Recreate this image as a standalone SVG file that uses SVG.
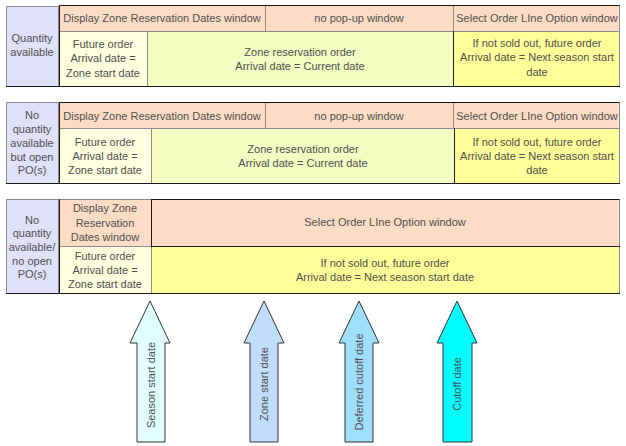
<svg xmlns="http://www.w3.org/2000/svg" width="626" height="446" viewBox="0 0 626 446">
<style>
text{font-family:"Liberation Sans",Arial,sans-serif;font-size:11px;fill:#505050;text-anchor:middle}
.c{stroke:#8c8c8c;stroke-width:1}
.lav{fill:#E0E0F9}
.hdr{fill:#FCDCC4}
.fut{fill:#FFFFE0}
.zone{fill:#F2FDC2}
.yel{fill:#FFFF99}
.dk{stroke:#1a1a1a;stroke-width:1;fill:none}
.arr{stroke:#333;stroke-width:1}
</style>
<rect width="626" height="446" fill="#fff"/>

<!-- Row 1 -->
<g id="row1">
  <g id="r1-label"><rect class="c lav" x="6.5" y="6.5" width="52" height="80"/>
    <text x="32" y="42">Quantity</text><text x="32" y="56">available</text></g>
  <g id="r1-h1"><rect class="c hdr" x="59.5" y="5.5" width="206" height="26"/>
    <text x="162" y="22">Display Zone Reservation Dates window</text></g>
  <g id="r1-h2"><rect class="c hdr" x="265.5" y="5.5" width="188" height="26"/>
    <text x="359" y="22">no pop-up window</text></g>
  <g id="r1-h3"><rect class="c hdr" x="453.5" y="5.5" width="166" height="26"/>
    <text x="537" y="22">Select Order LIne Option window</text></g>
  <g id="r1-l1"><rect class="c fut" x="59.5" y="31.5" width="88" height="55"/>
    <text x="103" y="48">Future order</text><text x="103" y="62">Arrival date =</text><text x="103" y="77">Zone start date</text></g>
  <g id="r1-l2"><rect class="c zone" x="147.5" y="31.5" width="306" height="55"/>
    <text x="300" y="56">Zone reservation order</text><text x="300" y="70">Arrival date = Current date</text></g>
  <g id="r1-l3"><rect class="c yel" x="453.5" y="31.5" width="166" height="55"/>
    <text x="537" y="47">If not sold out, future order</text><text x="537" y="61">Arrival date = Next season start</text><text x="537" y="76">date</text></g>
  <path class="dk" d="M59.5,5.5H619.5M6,86.5H620M59.5,5V87M453.5,31V87"/>
</g>

<!-- Row 2 -->
<g id="row2">
  <g id="r2-label"><rect class="c lav" x="6.5" y="102.5" width="52" height="81"/>
    <text x="32" y="119">No</text><text x="32" y="133">quantity</text><text x="32" y="147">available</text><text x="32" y="161">but open</text><text x="32" y="174">PO(s)</text></g>
  <g id="r2-h1"><rect class="c hdr" x="59.5" y="102.5" width="206" height="26"/>
    <text x="162" y="120">Display Zone Reservation Dates window</text></g>
  <g id="r2-h2"><rect class="c hdr" x="265.5" y="102.5" width="188" height="26"/>
    <text x="359" y="120">no pop-up window</text></g>
  <g id="r2-h3"><rect class="c hdr" x="453.5" y="102.5" width="166" height="26"/>
    <text x="537" y="120">Select Order LIne Option window</text></g>
  <g id="r2-l1"><rect class="c fut" x="59.5" y="128.5" width="92" height="55"/>
    <text x="105" y="146">Future order</text><text x="105" y="160">Arrival date =</text><text x="105" y="174">Zone start date</text></g>
  <g id="r2-l2"><rect class="c zone" x="151.5" y="128.5" width="303" height="55"/>
    <text x="303" y="153">Zone reservation order</text><text x="303" y="167">Arrival date = Current date</text></g>
  <g id="r2-l3"><rect class="c yel" x="454.5" y="128.5" width="165" height="55"/>
    <text x="537" y="146">If not sold out, future order</text><text x="537" y="160">Arrival date = Next season start</text><text x="537" y="174">date</text></g>
  <path class="dk" d="M59.5,102.5H619.5M6,183.5H620M59.5,102V184M454.5,128V184"/>
</g>

<!-- Row 3 -->
<g id="row3">
  <g id="r3-label"><rect class="c lav" x="6.5" y="199.5" width="52" height="94"/>
    <text x="32" y="224">No</text><text x="32" y="237">quantity</text><text x="32" y="251">available/</text><text x="32" y="265">no open</text><text x="32" y="278">PO(s)</text></g>
  <g id="r3-h1"><rect class="c hdr" x="59.5" y="199.5" width="92" height="47"/>
    <text x="105" y="212">Display Zone</text><text x="105" y="227">Reservation</text><text x="105" y="241">Dates window</text></g>
  <g id="r3-h2"><rect class="c hdr" x="151.5" y="199.5" width="468" height="47"/>
    <text x="385" y="226">Select Order LIne Option window</text></g>
  <g id="r3-l1"><rect class="c fut" x="59.5" y="246.5" width="92" height="47"/>
    <text x="105" y="260">Future order</text><text x="105" y="274">Arrival date =</text><text x="105" y="288">Zone start date</text></g>
  <g id="r3-l2"><rect class="c yel" x="151.5" y="246.5" width="468" height="47"/>
    <text x="385" y="267">If not sold out, future order</text><text x="385" y="281">Arrival date = Next season start date</text></g>
  <path class="dk" d="M151.5,199.5H619.5M6,293.5H620M59.5,199V294M151.5,199V247M151,246.5H620"/>
</g>

<!-- Date arrows -->
<g id="connectors">
  <g id="arrow-season">
    <polygon class="arr" fill="#E0FFFF" points="150,301 170,343 165,343 165,442 137,442 137,343 130,343"/>
    <text transform="translate(151,385) rotate(-90)" dy="0.35em">Season start date</text></g>
  <g id="arrow-zone">
    <polygon class="arr" fill="#C0DEFB" points="264,301 284,343 278,343 278,442 250,442 250,343 244,343"/>
    <text transform="translate(264,384) rotate(-90)" dy="0.35em">Zone start date</text></g>
  <g id="arrow-deferred">
    <polygon class="arr" fill="#A0DFFC" points="359,301 379,343 373,343 373,442 345,442 345,343 339,343"/>
    <text transform="translate(359,382) rotate(-90)" dy="0.35em">Deferred cutoff date</text></g>
  <g id="arrow-cutoff">
    <polygon class="arr" fill="#00FFFF" points="457,301 477,343 472,343 472,442 443,442 443,343 437,343"/>
    <text transform="translate(457,384) rotate(-90)" dy="0.35em">Cutoff date</text></g>
</g>
</svg>
